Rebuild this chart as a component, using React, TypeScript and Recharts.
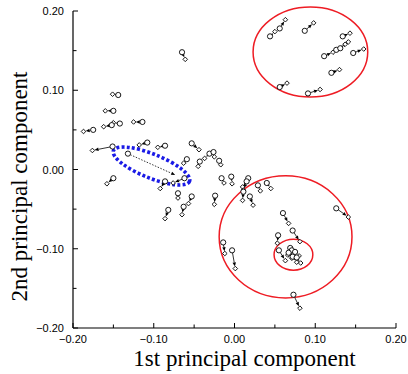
import { ScatterChart, Scatter, XAxis, YAxis, ReferenceLine, ReferenceArea, Label } from 'recharts'

// start (circle) of each drift arrow
const starts: [number, number][] = [
  [-0.065, 0.148], [-0.144, 0.094], [-0.150, 0.074], [-0.152, 0.056], [-0.142, 0.058],
  [-0.114, 0.060], [-0.175, 0.050], [-0.151, 0.029], [-0.108, 0.034], [-0.086, 0.030],
  [-0.053, 0.033], [-0.059, 0.013], [-0.043, 0.010], [-0.031, 0.020], [-0.026, 0.022],
  [-0.019, 0.011], [-0.062, -0.011], [-0.086, -0.015], [-0.070, -0.030], [-0.053, -0.034],
  [-0.082, -0.051], [-0.063, -0.047], [-0.024, -0.033], [-0.016, -0.011], [-0.004, -0.009],
  [0.017, -0.011], [0.015, -0.015], [0.029, -0.020], [0.040, -0.017], [0.011, -0.028],
  [0.019, -0.034], [0.060, -0.055], [-0.014, -0.092], [-0.003, -0.102], [0.072, -0.077],
  [0.054, -0.083], [0.055, -0.102], [0.069, -0.099], [0.071, -0.102], [0.072, -0.110],
  [0.077, -0.111], [0.067, -0.105], [0.075, -0.104], [0.126, -0.049], [0.073, -0.158],
  [0.044, 0.168], [0.056, 0.178], [0.087, 0.175], [0.134, 0.168], [0.111, 0.143],
  [0.126, 0.151], [0.131, 0.153], [0.147, 0.147], [0.120, 0.122], [0.056, 0.104],
  [0.091, 0.096], [-0.150, -0.011],
]

// end (diamond) of each drift arrow, same order
const ends: [number, number][] = [
  [-0.061, 0.139], [-0.151, 0.095], [-0.160, 0.074], [-0.162, 0.054], [-0.150, 0.059],
  [-0.125, 0.060], [-0.187, 0.048], [-0.176, 0.024], [-0.118, 0.031], [-0.095, 0.028],
  [-0.044, 0.025], [-0.063, 0.008], [-0.045, 0.004], [-0.037, 0.014], [-0.025, 0.016],
  [-0.017, 0.006], [-0.076, -0.017], [-0.092, -0.024], [-0.070, -0.036], [-0.057, -0.043],
  [-0.086, -0.062], [-0.065, -0.057], [-0.025, -0.044], [-0.013, -0.017], [-0.003, -0.018],
  [0.010, -0.022], [0.011, -0.026], [0.032, -0.027], [0.045, -0.024], [0.010, -0.039],
  [0.023, -0.045], [0.067, -0.068], [-0.012, -0.106], [0.001, -0.125], [0.081, -0.091],
  [0.053, -0.093], [0.063, -0.115], [0.072, -0.105], [0.066, -0.108], [0.077, -0.117],
  [0.082, -0.118], [0.071, -0.112], [0.080, -0.109], [0.141, -0.060], [0.081, -0.175],
  [0.050, 0.174], [0.063, 0.189], [0.098, 0.185], [0.143, 0.172], [0.122, 0.148],
  [0.137, 0.158], [0.141, 0.161], [0.160, 0.152], [0.130, 0.126], [0.065, 0.109],
  [0.106, 0.101], [-0.158, -0.018],
]

// the one long dotted drift inside the blue ellipse
const longFrom: [number, number] = [-0.132, 0.020]
const longTo: [number, number] = [-0.071, -0.008]

// red rings as [x1, x2, y1, y2]
const redRings: [number, number, number, number][] = [
  [0.023, 0.165, 0.0915, 0.205],
  [-0.019, 0.1455, -0.162, -0.008],
  [0.049, 0.097, -0.127, -0.088],
]

// blue dotted ellipse: [cx, cy, rx, ry], tilted
const blueEllipse: [number, number, number, number] = [-0.1028, 0.0044, 0.0508, 0.0151]

const ticks = [-0.2, -0.15, -0.1, -0.05, 0, 0.05, 0.1, 0.15, 0.2]
const domain = [-0.2, 0.2]

const startData = starts.map(([x, y]) => ({ x, y }))
const endData = ends.map(([x, y]) => ({ x, y }))

const SANS = '"Liberation Sans", Arial, Helvetica, sans-serif'
const SERIF = '"Liberation Serif", "Times New Roman", Times, serif'

const isMajor = (v: number) => Math.abs(v * 10 - Math.round(v * 10)) < 1e-6
const fmt = (v: number) => (v < -1e-9 ? '\u2212' : '') + Math.abs(v).toFixed(2)

const BottomTick = ({ x, y, payload }: any) => {
  const major = isMajor(payload.value)
  return (
    <g>
      <line x1={x} y1={y} x2={x} y2={y - (major ? 5 : 3.5)} stroke="#000" />
      {major && (
        <text x={x} y={y + 15} textAnchor="middle" fontSize={11} fontFamily={SANS} fill="#000">
          {fmt(payload.value)}
        </text>
      )}
    </g>
  )
}

const TopTick = ({ x, y, payload }: any) => (
  <line x1={x} y1={y} x2={x} y2={y + (isMajor(payload.value) ? 5 : 3.5)} stroke="#000" />
)

const LeftTick = ({ x, y, payload }: any) => {
  const major = isMajor(payload.value)
  return (
    <g>
      <line x1={x} y1={y} x2={x + (major ? 5 : 3.5)} y2={y} stroke="#000" />
      {major && (
        <text x={x - 9} y={y + 4} textAnchor="end" fontSize={11} fontFamily={SANS} fill="#000">
          {fmt(payload.value)}
        </text>
      )}
    </g>
  )
}

const RightTick = ({ x, y, payload }: any) => (
  <line x1={x} y1={y} x2={x - (isMajor(payload.value) ? 5 : 3.5)} y2={y} stroke="#000" />
)

const Arrow = (props: any) => {
  const { x1, y1, x2, y2, strokeDasharray } = props
  const dx = x2 - x1
  const dy = y2 - y1
  const len = Math.hypot(dx, dy) || 1
  const ux = dx / len
  const uy = dy / len
  const sx = x1 + ux * 2.6
  const sy = y1 + uy * 2.6
  const tx = x2 - ux * 2.2
  const ty = y2 - uy * 2.2
  const bx = tx - ux * 4
  const by = ty - uy * 4
  const px = -uy * 1.7
  const py = ux * 1.7
  return (
    <g>
      <line x1={sx} y1={sy} x2={bx} y2={by} stroke="#000" strokeWidth={0.8} strokeDasharray={strokeDasharray} />
      <path d={`M${tx},${ty}L${bx + px},${by + py}L${bx - px},${by - py}Z`} fill="#000" />
    </g>
  )
}

const Ring = (props: any) => {
  const { x, y, width, height, angle, color, sw, dash } = props
  const cx = x + width / 2
  const cy = y + height / 2
  return (
    <ellipse
      cx={cx}
      cy={cy}
      rx={Math.abs(width) / 2}
      ry={Math.abs(height) / 2}
      fill="none"
      stroke={color}
      strokeWidth={sw}
      strokeDasharray={dash}
      transform={angle ? `rotate(${angle} ${cx} ${cy})` : undefined}
    />
  )
}

const StartDot = ({ cx, cy }: any) => (
  <circle cx={cx} cy={cy} r={2.6} fill="#fff" stroke="#000" strokeWidth={0.9} />
)

const EndDiamond = ({ cx, cy }: any) => (
  <path
    d={`M${cx},${cy - 2.3}L${cx + 2.3},${cy}L${cx},${cy + 2.3}L${cx - 2.3},${cy}Z`}
    fill="#fff"
    stroke="#000"
    strokeWidth={0.9}
  />
)

export default function App() {
  const [bcx, bcy, brx, bry] = blueEllipse
  return (
    <div style={{ position: 'absolute', left: 0, top: 0, width: 408, height: 374 }}>
      <ScatterChart width={408} height={374} margin={{ top: 11, right: 12, bottom: 0, left: 8 }}>
        <XAxis
          type="number"
          dataKey="x"
          domain={domain}
          ticks={ticks}
          allowDataOverflow
          height={46}
          tickSize={0}
          tickMargin={0}
          tickLine={false}
          axisLine={{ stroke: '#000', strokeWidth: 1.2 }}
          tick={<BottomTick />}
          interval={0}
        >
          <Label
            content={({ viewBox }: any) => (
              <text
                x={viewBox.x + viewBox.width / 2 + 10}
                y={viewBox.y + 38}
                textAnchor="middle"
                fontSize={23}
                fontFamily={SERIF}
                fill="#000"
              >
                1st principal component
              </text>
            )}
          />
        </XAxis>
        <XAxis
          xAxisId="top"
          orientation="top"
          type="number"
          dataKey="x"
          domain={domain}
          ticks={ticks}
          allowDataOverflow
          height={0}
          tickSize={0}
          tickMargin={0}
          tickLine={false}
          axisLine={{ stroke: '#000', strokeWidth: 1.2 }}
          tick={<TopTick />}
          interval={0}
        />
        <YAxis
          type="number"
          dataKey="y"
          domain={domain}
          ticks={ticks}
          allowDataOverflow
          width={65}
          tickSize={0}
          tickMargin={0}
          tickLine={false}
          axisLine={{ stroke: '#000', strokeWidth: 1.2 }}
          tick={<LeftTick />}
          interval={0}
        >
          <Label
            content={({ viewBox }: any) => {
              const tx = viewBox.x + 19
              const ty = viewBox.y + viewBox.height / 2 + 17
              return (
                <text
                  x={tx}
                  y={ty}
                  transform={`rotate(-90 ${tx} ${ty})`}
                  textAnchor="middle"
                  fontSize={23}
                  fontFamily={SERIF}
                  fill="#000"
                >
                  2nd principal component
                </text>
              )
            }}
          />
        </YAxis>
        <YAxis
          yAxisId="right"
          orientation="right"
          type="number"
          dataKey="y"
          domain={domain}
          ticks={ticks}
          allowDataOverflow
          width={0}
          tickSize={0}
          tickMargin={0}
          tickLine={false}
          axisLine={{ stroke: '#000', strokeWidth: 1.2 }}
          tick={<RightTick />}
          interval={0}
        />

        {redRings.map(([x1, x2, y1, y2], i) => (
          <ReferenceArea
            key={`ring-${i}`}
            x1={x1}
            x2={x2}
            y1={y1}
            y2={y2}
            ifOverflow="visible"
            shape={(p: any) => <Ring {...p} color="#ee1c24" sw={1.5} />}
          />
        ))}
        <ReferenceArea
          x1={bcx - brx}
          x2={bcx + brx}
          y1={bcy - bry}
          y2={bcy + bry}
          ifOverflow="visible"
          shape={(p: any) => <Ring {...p} color="#1a1ae6" sw={3.6} dash="3 2.2" angle={22} />}
        />

        {starts.map((s, i) => (
          <ReferenceLine
            key={`arrow-${i}`}
            segment={[{ x: s[0], y: s[1] }, { x: ends[i][0], y: ends[i][1] }]}
            ifOverflow="visible"
            shape={Arrow}
          />
        ))}
        <ReferenceLine
          segment={[{ x: longFrom[0], y: longFrom[1] }, { x: longTo[0], y: longTo[1] }]}
          ifOverflow="visible"
          strokeDasharray="1.5 1.5"
          shape={Arrow}
        />

        <Scatter data={endData} shape={<EndDiamond />} isAnimationActive={false} />
        <Scatter data={startData} shape={<StartDot />} isAnimationActive={false} />
        <Scatter data={[{ x: longFrom[0], y: longFrom[1] }]} shape={<StartDot />} isAnimationActive={false} />
      </ScatterChart>
    </div>
  )
}
